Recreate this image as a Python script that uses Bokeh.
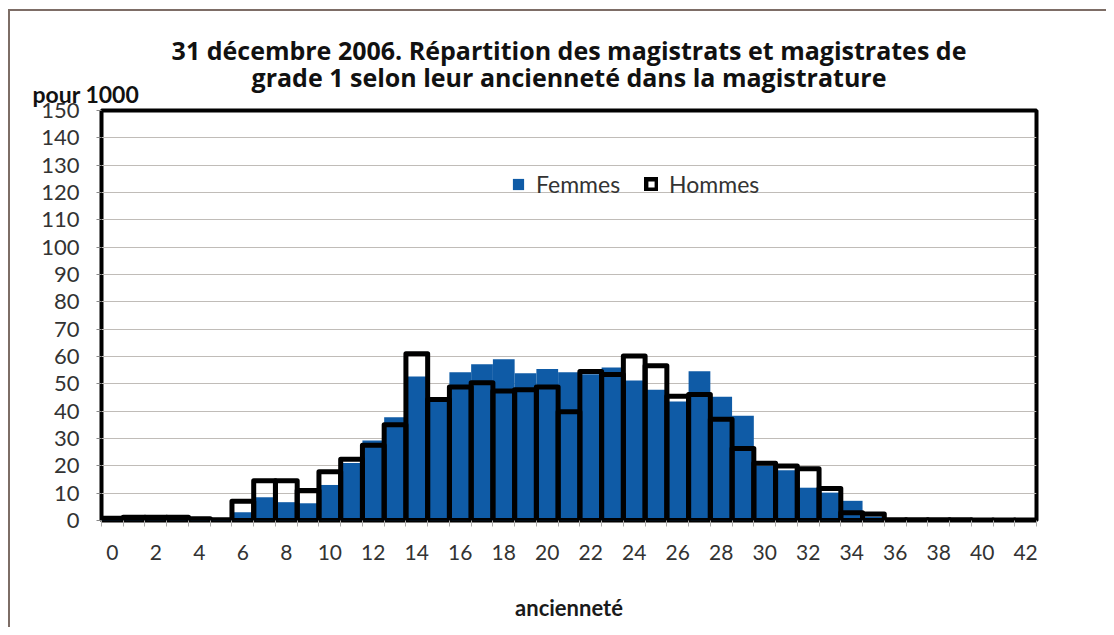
from bokeh.plotting import figure
from bokeh.models import (ColumnDataSource, FixedTicker, Legend, LegendItem, Range1d, Title)
from bokeh.embed import file_html
from bokeh.resources import INLINE

# ---- data (pour 1000) ----
anciennete = list(range(0, 43))
femmes = [0.3, 0.3, 0.3, 0.3, 0.2, 0.2, 3.0, 8.5, 6.7, 6.3, 13.0, 21.0, 29.3, 37.8, 52.7,
          44.0, 54.2, 57.2, 59.0, 53.9, 55.4, 54.2, 53.5, 56.0, 51.2, 47.8, 43.5, 54.6,
          45.3, 38.3, 20.0, 18.4, 12.0, 10.2, 7.2, 1.5, 0, 0, 0, 0, 0, 0, 0]
hommes = [0.8, 1.2, 1.2, 1.2, 0.6, 0.3, 7.0, 14.5, 14.5, 11.0, 17.8, 22.4, 27.5, 35.0, 61.0,
          44.3, 48.8, 50.4, 47.4, 47.8, 48.8, 39.8, 54.5, 53.4, 60.2, 56.6, 45.5, 46.1,
          37.0, 26.3, 20.9, 19.9, 18.9, 11.7, 2.8, 2.4, 0.3, 0.3, 0.3, 0.3, 0.2, 0.2, 0.2]
x_tick_labels = list(range(0, 43, 2))
y_ticks = list(range(0, 151, 10))

title1 = "31 décembre 2006. Répartition des magistrats et magistrates de"
title2 = "grade 1 selon leur ancienneté dans la magistrature"
y_unit = "pour 1000"
x_title = "ancienneté"

FONT = "Lato"
TFONT = "Open Sans"
BLUE = "#0f5ba6"

src = ColumnDataSource(dict(x=anciennete, f=femmes, h=hommes))

W, H = 1098, 618
p = figure(width=W, height=H, output_backend="svg", toolbar_location=None,
           x_range=Range1d(-0.5, 42.5), y_range=Range1d(0, 150),
           min_border_left=91, min_border_right=72, min_border_top=99, min_border_bottom=109)
p.styles = {"border-left": "2px solid #7d6d66", "border-top": "2px solid #7d6d66",
            "margin-left": "8px", "margin-top": "9px"}

rf = p.vbar(x="x", top="f", width=1.0, bottom=0, source=src, fill_color=BLUE, line_color=None)
rh = p.vbar(x="x", top="h", width=1.0, bottom=0, source=src, fill_color=None,
            line_color="black", line_width=5, line_join="round")

p.outline_line_color = "black"
p.outline_line_width = 4

p.xgrid.grid_line_color = None
p.ygrid.grid_line_color = "#c0bcb8"
p.ygrid.grid_line_width = 1

# x axis
p.xaxis.ticker = FixedTicker(ticks=x_tick_labels, minor_ticks=[i - 0.5 for i in range(0, 44)])
p.xaxis.axis_line_color = None
p.xaxis.major_tick_line_color = None
p.xaxis.major_tick_out = 0
p.xaxis.major_tick_in = 0
p.xaxis.minor_tick_line_color = "#aaaaaa"
p.xaxis.minor_tick_out = 6
p.xaxis.minor_tick_in = 0
p.xaxis.major_label_standoff = 18
p.xaxis.major_label_text_font = FONT
p.xaxis.major_label_text_font_size = "21px"
p.xaxis.major_label_text_color = "#333333"
p.xaxis.axis_label = x_title
p.xaxis.axis_label_text_font = FONT
p.xaxis.axis_label_text_font_style = "bold"
p.xaxis.axis_label_text_font_size = "22px"
p.xaxis.axis_label_text_color = "#1a1a1a"
p.xaxis.axis_label_standoff = 31

# y axis
p.yaxis.ticker = FixedTicker(ticks=y_ticks, minor_ticks=[])
p.yaxis.axis_line_color = None
p.yaxis.major_tick_line_color = "#888888"
p.yaxis.major_tick_out = 5
p.yaxis.major_tick_in = 0
p.yaxis.minor_tick_line_color = None
p.yaxis.major_label_standoff = 17
p.yaxis.major_label_text_font = FONT
p.yaxis.major_label_text_font_size = "22px"
p.yaxis.major_label_text_color = "#333333"

# titles: first added sits closest to the frame
p.title.text = ""
p.add_layout(Title(text=y_unit, align="left", offset=-69, text_font=FONT, text_font_style="bold",
                   text_font_size="23px", text_color="#111111", standoff=5), "above")
p.add_layout(Title(text=title2, align="center", text_font=TFONT, text_font_style="bold",
                   text_font_size="25px", text_color="#111111", standoff=-36), "above")
p.add_layout(Title(text=title1, align="center", text_font=TFONT, text_font_style="bold",
                   text_font_size="25px", text_color="#111111", standoff=17), "above")

legend = Legend(items=[LegendItem(label="Femmes", renderers=[rf]),
                       LegendItem(label="Hommes", renderers=[rh])],
                orientation="horizontal", location=(408, 320),
                background_fill_alpha=0, border_line_alpha=0,
                glyph_width=14, glyph_height=14, label_standoff=11, spacing=24,
                label_text_font=FONT, label_text_font_size="23px", label_text_color="#333333",
                padding=2, margin=0)
p.add_layout(legend, "center")

open("out.html", "w").write(file_html(p, INLINE))
